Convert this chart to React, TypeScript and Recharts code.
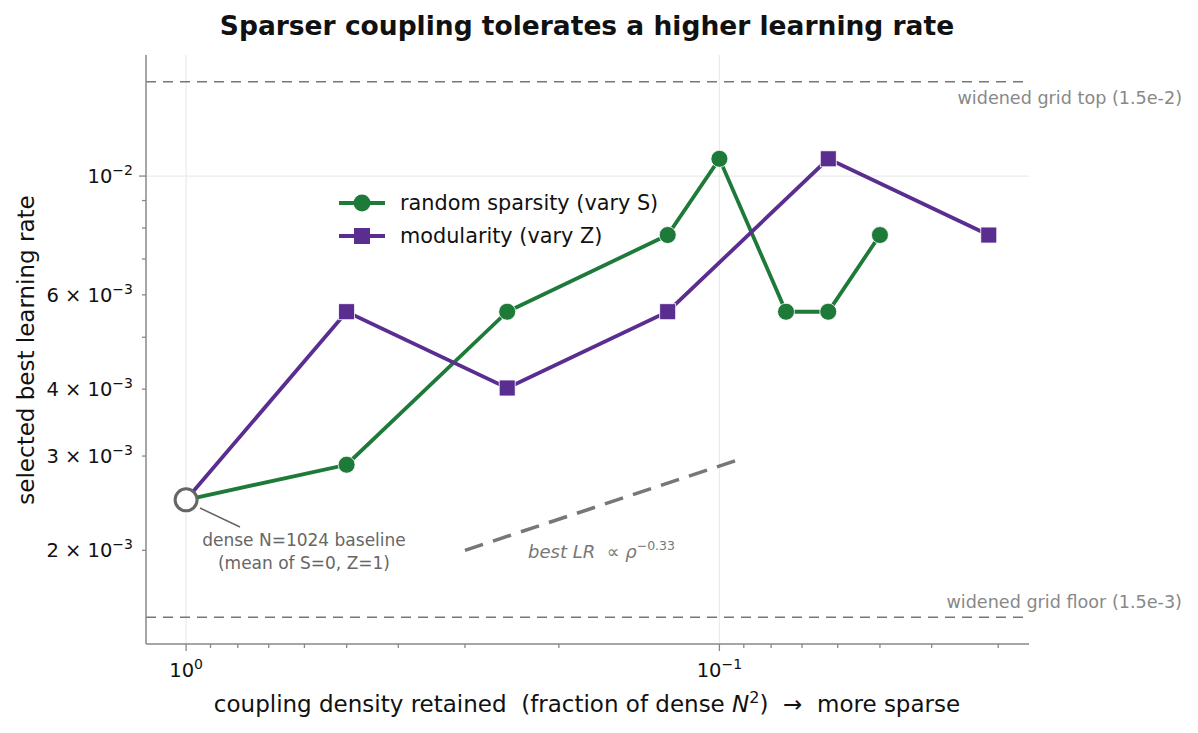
import { LineChart, Line, XAxis, YAxis, ReferenceLine, Customized } from 'recharts';

// fraction of dense N^2 coupling retained
const sparsityDensity = [1, 0.5, 0.25, 0.125, 0.1, 0.075, 0.0625, 0.05];
const sparsityLR = [2.485e-3, 2.89e-3, 5.58e-3, 7.76e-3, 1.077e-2, 5.58e-3, 5.58e-3, 7.76e-3];
const modularityDensity = [1, 0.5, 0.25, 0.125, 0.0625, 0.03125];
const modularityLR = [2.485e-3, 5.58e-3, 4.02e-3, 5.58e-3, 1.077e-2, 7.76e-3];

const baselineDensity = [1];
const baselineLR = [2.485e-3];

const gridTop = 1.5e-2;
const gridFloor = 1.5e-3;

// power-law guide, best LR ∝ rho^-0.33
const trendDensity = [0.3, 0.09];
const trendLR = [2.0e-3, 2.976e-3];

const xTicks = [1, 0.9, 0.8, 0.7, 0.6, 0.5, 0.4, 0.3, 0.2, 0.1, 0.09, 0.08, 0.07, 0.06, 0.05, 0.04, 0.03];
const yTicks = [0.002, 0.003, 0.004, 0.005, 0.006, 0.007, 0.008, 0.009, 0.01];
const yLabelled = [0.002, 0.003, 0.004, 0.006, 0.01];

const xDomain = [0.02627, 1.189];
const yDomain = [1.337e-3, 1.683e-2];

const GREEN = '#1e7a38';
const PURPLE = '#5a2d91';
const FONT = "'DejaVu Sans', sans-serif";

const sparsityData = sparsityDensity.map((x, i) => ({ x, y: sparsityLR[i] }));
const modularityData = modularityDensity.map((x, i) => ({ x, y: modularityLR[i] }));
const baselineData = baselineDensity.map((x, i) => ({ x, y: baselineLR[i] }));

const isMajor = (v: number) => Math.abs(Math.log10(v) - Math.round(Math.log10(v))) < 1e-6;

const XTick = (props: any) => {
  const { x, y, payload } = props;
  const v = payload.value as number;
  const major = isMajor(v);
  const exp = Math.round(Math.log10(v));
  return (
    <g>
      <line x1={x} x2={x} y1={y} y2={y + (major ? 7 : 4)} stroke='#888' strokeWidth={1.3} />
      {major && (
        <text x={x} y={y + 33} textAnchor='middle' fontSize={19.5} fill='#111' style={{ fontFamily: FONT }}>
          10
          <tspan dy={-8} fontSize={14}>
            {exp === 0 ? '0' : `\u2212${Math.abs(exp)}`}
          </tspan>
        </text>
      )}
    </g>
  );
};

const YTick = (props: any) => {
  const { x, y, payload } = props;
  const v = payload.value as number;
  const major = isMajor(v);
  const exp = Math.floor(Math.log10(v) + 1e-9);
  const mant = Math.round(v / Math.pow(10, exp));
  const labelled = yLabelled.some((t) => Math.abs(t - v) < 1e-9);
  return (
    <g>
      <line x1={x} x2={x - (major ? 7 : 4)} y1={y} y2={y} stroke='#888' strokeWidth={1.3} />
      {labelled && (
        <text x={x - 13} y={y + 7} textAnchor='end' fontSize={19.5} fill='#111' style={{ fontFamily: FONT }}>
          {major ? '10' : `${mant} \u00d7 10`}
          <tspan dy={-8} fontSize={14}>{`\u2212${Math.abs(exp)}`}</tspan>
        </text>
      )}
    </g>
  );
};

const SquareDot = (props: any) => {
  const { cx, cy, index } = props;
  if (cx == null || cy == null) return <g key={`sq-${index}`} />;
  return (
    <rect key={`sq-${index}`} x={cx - 8} y={cy - 8} width={16} height={16} fill={PURPLE} stroke='#fff' strokeWidth={0.8} />
  );
};

const RoundDot = (props: any) => {
  const { cx, cy, index } = props;
  if (cx == null || cy == null) return <g key={`c-${index}`} />;
  return <circle key={`c-${index}`} cx={cx} cy={cy} r={8.5} fill={GREEN} stroke='#fff' strokeWidth={0.8} />;
};

const OpenDot = (props: any) => {
  const { cx, cy, index } = props;
  if (cx == null || cy == null) return <g key={`o-${index}`} />;
  return <circle key={`o-${index}`} cx={cx} cy={cy} r={11} fill='#fff' stroke='#666' strokeWidth={3} />;
};

const Texts = () => (
  <g style={{ fontFamily: FONT }}>
    <text x={587} y={35} textAnchor='middle' fontSize={26.5} fontWeight='bold' fill='#111'>
      Sparser coupling tolerates a higher learning rate
    </text>
    <text x={587} y={712} textAnchor='middle' fontSize={23} fill='#111' style={{ whiteSpace: 'pre' }}>
      {'coupling density retained  (fraction of dense '}
      <tspan fontStyle='italic'>N</tspan>
      <tspan dy={-9} fontSize={16}>2</tspan>
      <tspan dy={9}>{')  \u2192  more sparse'}</tspan>
    </text>
    <text x={34} y={350} textAnchor='middle' fontSize={23} fill='#111' transform='rotate(-90 34 350)'>
      selected best learning rate
    </text>

    <text x={1182} y={104} textAnchor='end' fontSize={17.6} fill='#888'>
      widened grid top (1.5e-2)
    </text>
    <text x={1182} y={608} textAnchor='end' fontSize={17.6} fill='#888'>
      widened grid floor (1.5e-3)
    </text>

    <line x1={200} y1={508} x2={240} y2={527} stroke='#666' strokeWidth={1.5} />
    <text x={304} y={546} textAnchor='middle' fontSize={17} fill='#666'>
      dense N=1024 baseline
    </text>
    <text x={304} y={569} textAnchor='middle' fontSize={17} fill='#666'>
      (mean of S=0, Z=1)
    </text>

    <text x={528} y={558} fontSize={18} fill='#777' style={{ whiteSpace: 'pre' }}>
      <tspan fontStyle='italic'>best LR</tspan>
      <tspan>{'  \u221d '}</tspan>
      <tspan fontStyle='italic'>{'\u03c1'}</tspan>
      <tspan dy={-8} fontSize={12.5}>{'\u22120.33'}</tspan>
    </text>

    {/* legend */}
    <line x1={339} x2={385} y1={203} y2={203} stroke={GREEN} strokeWidth={3.8} />
    <circle cx={362} cy={203} r={8.5} fill={GREEN} />
    <text x={400} y={210} fontSize={20.8} fill='#111'>random sparsity (vary S)</text>
    <line x1={339} x2={385} y1={236} y2={236} stroke={PURPLE} strokeWidth={3.8} />
    <rect x={354} y={228} width={16} height={16} fill={PURPLE} />
    <text x={400} y={243} fontSize={20.8} fill='#111'>modularity (vary Z)</text>
  </g>
);

export default function App() {
  return (
    <div style={{ position: 'absolute', left: 0, top: 0, background: '#fff' }}>
      <LineChart width={1198} height={733} margin={{ top: 55, left: 145, right: 169, bottom: 88 }}>
        <XAxis
          type='number'
          dataKey='x'
          scale='log'
          domain={xDomain}
          allowDataOverflow
          reversed
          ticks={xTicks}
          interval={0}
          tick={<XTick />}
          tickLine={false}
          tickSize={0}
          tickMargin={0}
          height={1}
          stroke='#888'
          strokeWidth={1.5}
        />
        <YAxis
          type='number'
          dataKey='y'
          scale='log'
          domain={yDomain}
          allowDataOverflow
          ticks={yTicks}
          interval={0}
          tick={<YTick />}
          tickLine={false}
          tickSize={0}
          tickMargin={0}
          width={1}
          stroke='#888'
          strokeWidth={1.5}
        />

        <ReferenceLine x={1} stroke='#ebebeb' strokeWidth={1.2} />
        <ReferenceLine x={0.1} stroke='#ebebeb' strokeWidth={1.2} />
        <ReferenceLine y={0.01} stroke='#ebebeb' strokeWidth={1.2} />

        <ReferenceLine y={gridTop} stroke='#777' strokeWidth={1.6} strokeDasharray='10 7' />
        <ReferenceLine y={gridFloor} stroke='#777' strokeWidth={1.6} strokeDasharray='10 7' />
        <ReferenceLine
          segment={[
            { x: trendDensity[0], y: trendLR[0] },
            { x: trendDensity[1], y: trendLR[1] },
          ]}
          stroke='#777'
          strokeWidth={3.5}
          strokeDasharray='19 10.5'
          ifOverflow='visible'
        />

        <Line
          data={sparsityData}
          dataKey='y'
          type='linear'
          stroke={GREEN}
          strokeWidth={3.8}
          dot={<RoundDot />}
          activeDot={false}
          isAnimationActive={false}
        />
        <Line
          data={modularityData}
          dataKey='y'
          type='linear'
          stroke={PURPLE}
          strokeWidth={3.8}
          dot={<SquareDot />}
          activeDot={false}
          isAnimationActive={false}
        />
        <Line
          data={baselineData}
          dataKey='y'
          type='linear'
          stroke='none'
          dot={<OpenDot />}
          activeDot={false}
          isAnimationActive={false}
        />

        <Customized component={Texts} />
      </LineChart>
    </div>
  );
}
